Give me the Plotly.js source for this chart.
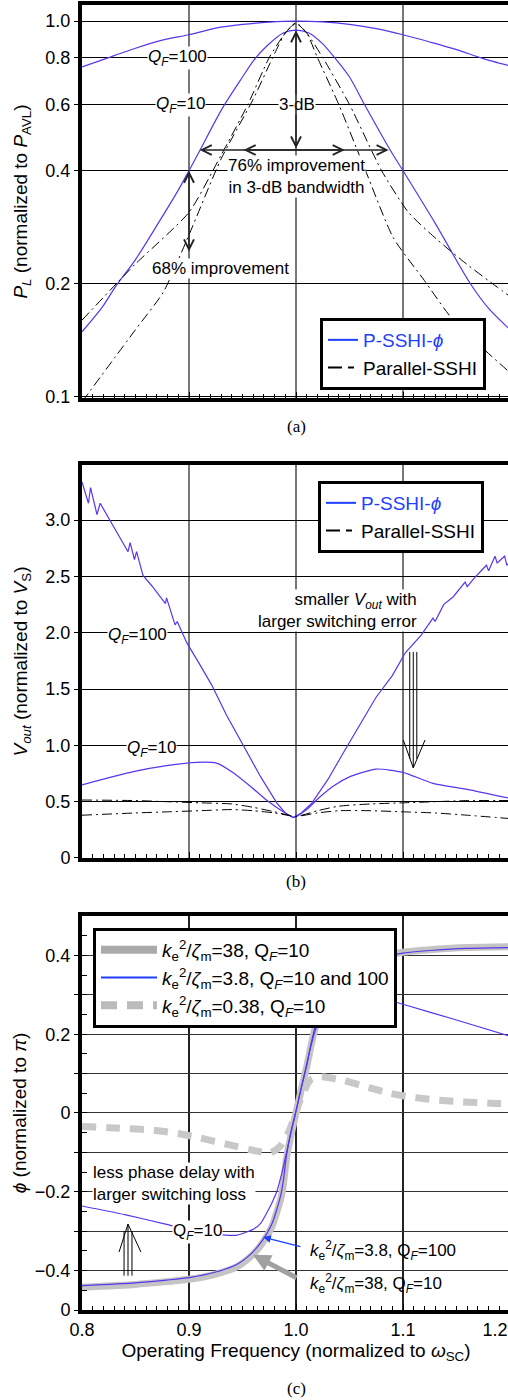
<!DOCTYPE html>
<html>
<head>
<meta charset="utf-8">
<script src="https://cdn.plot.ly/plotly-3.0.1.min.js"></script>
<style>
html,body{margin:0;padding:0;background:#fff;overflow:hidden;}
#chart{width:512px;height:1400px;}
</style>
</head>
<body>
<div id="chart"></div>
<script>
// ---------- Panel (a): P_L (normalized to P_AVL), log scale ----------
const fA_q100 = [0.80,0.825,0.85,0.875,0.90,0.925,0.95,0.975,1.00,1.025,1.05,1.075,1.10,1.125,1.15,1.175,1.20];
const plA_q100 = [0.755,0.80,0.847,0.89,0.92,0.958,0.98,0.994,1.0,0.995,0.98,0.955,0.92,0.88,0.84,0.795,0.76];
const fA_q10 = [0.80,0.82,0.831,0.85,0.87,0.89,0.90,0.91,0.931,0.95,0.961,0.973,0.988,1.00,1.012,1.025,1.036,1.05,1.064,1.088,1.10,1.13,1.163,1.18,1.20];
const plA_q10 = [0.149,0.175,0.196,0.232,0.286,0.355,0.40,0.452,0.585,0.71,0.79,0.86,0.93,0.946,0.93,0.87,0.80,0.71,0.60,0.454,0.40,0.29,0.20,0.172,0.151];
const fA_ssA = [0.80,0.85,0.876,0.90,0.93,0.96,0.98,0.99,1.00,1.01,1.02,1.04,1.065,1.091,1.12,1.147,1.20];
const plA_ssA = [0.097,0.151,0.19,0.27,0.43,0.62,0.82,0.93,0.985,0.93,0.80,0.60,0.40,0.265,0.204,0.16,0.116];
const fA_ssB = [0.80,0.832,0.85,0.90,0.93,0.955,0.975,0.99,1.00,1.01,1.025,1.05,1.08,1.105,1.132,1.16,1.188,1.20];
const plA_ssB = [0.160,0.20,0.226,0.31,0.44,0.60,0.80,0.93,0.99,0.93,0.80,0.60,0.40,0.31,0.262,0.225,0.196,0.185];
const tickA = [0.1,0.2,0.4,0.6,0.8,1.0];
const tickA_text = ['0.1','0.2','0.4','0.6','0.8','1.0'];

// ---------- Panel (b): V_out (normalized to V_S) ----------
const fB_q100 = [0.800,0.806,0.808,0.811,0.814,0.817,0.826,0.836,0.843,0.845,0.849,0.851,0.857,0.865,0.878,0.879,0.887,0.889,0.898,0.910,0.921,0.935,0.952,0.967,0.982,0.990,0.9975,1.005,1.015,1.030,1.044,1.063,1.075,1.090,1.102,1.117,1.128,1.130,1.138,1.147,1.158,1.160,1.167,1.178,1.180,1.186,1.188,1.195,1.197,1.200];
const vB_q100 = [3.34,3.15,3.29,3.18,3.05,3.15,3.00,2.84,2.72,2.80,2.65,2.72,2.51,2.42,2.26,2.31,2.07,2.10,1.91,1.72,1.54,1.27,0.98,0.72,0.49,0.40,0.36,0.40,0.49,0.70,0.93,1.24,1.43,1.62,1.82,1.98,2.13,2.10,2.25,2.32,2.45,2.41,2.49,2.60,2.55,2.68,2.62,2.68,2.60,2.63];
const fB_q10 = [0.80,0.848,0.879,0.907,0.925,0.941,0.957,0.973,0.988,0.998,1.010,1.022,1.035,1.05,1.075,1.10,1.128,1.16,1.20];
const vB_q10 = [0.65,0.767,0.82,0.85,0.845,0.76,0.64,0.51,0.41,0.36,0.43,0.54,0.64,0.72,0.79,0.76,0.663,0.61,0.53];
const fB_ss = [0.80,0.85,0.88,0.91,0.94,0.96,0.98,1.00,1.02,1.04,1.07,1.10,1.13,1.16,1.20];
const vB_ssUpper = [0.515,0.51,0.50,0.49,0.48,0.45,0.41,0.37,0.42,0.46,0.48,0.49,0.50,0.51,0.51];
const vB_ssLower = [0.38,0.40,0.41,0.42,0.43,0.42,0.40,0.37,0.40,0.42,0.42,0.41,0.40,0.38,0.35];
const tickB = [0,0.5,1.0,1.5,2.0,2.5,3.0];
const tickB_text = ['0','0.5','1.0','1.5','2.0','2.5','3.0'];

// ---------- Panel (c): phi (normalized to pi) ----------
const fC_38 = [0.80,0.85,0.879,0.90,0.926,0.945,0.957,0.966,0.973,0.978,0.982,0.986,0.988,0.991,0.995,1.0,1.005,1.010,1.014,1.018,1.025,1.035,1.05,1.07,1.082,1.10,1.128,1.16,1.20];
const phC_38 = [-0.442,-0.435,-0.428,-0.422,-0.408,-0.39,-0.366,-0.34,-0.311,-0.285,-0.252,-0.215,-0.186,-0.118,-0.06,0.0,0.06,0.117,0.17,0.217,0.27,0.32,0.36,0.39,0.398,0.408,0.415,0.42,0.422];
const phC_38q100 = [-0.438,-0.431,-0.424,-0.418,-0.403,-0.384,-0.36,-0.333,-0.305,-0.278,-0.245,-0.205,-0.175,-0.11,-0.05,0.005,0.065,0.12,0.175,0.22,0.275,0.325,0.362,0.387,0.397,0.406,0.413,0.418,0.42];
const fC_q10 = [0.80,0.84,0.878,0.905,0.934,0.945,0.96,0.967,0.973,0.978,0.982,0.987,0.992,1.0,1.008,1.013,1.018,1.025,1.035,1.05,1.065,1.081,1.10,1.15,1.20];
const phC_q10 = [-0.236,-0.258,-0.282,-0.30,-0.31,-0.31,-0.295,-0.28,-0.252,-0.225,-0.20,-0.15,-0.09,0.005,0.10,0.16,0.21,0.255,0.29,0.305,0.30,0.29,0.276,0.236,0.195];
const fC_038 = [0.80,0.83,0.864,0.89,0.91,0.938,0.957,0.976,0.985,0.994,1.004,1.013,1.022,1.044,1.066,1.088,1.106,1.131,1.156,1.181,1.20];
const phC_038 = [-0.034,-0.038,-0.043,-0.052,-0.063,-0.081,-0.093,-0.101,-0.085,-0.043,0.033,0.083,0.092,0.083,0.066,0.05,0.041,0.033,0.028,0.025,0.024];
const tickC = [-0.5,-0.4,-0.3,-0.2,-0.1,0,0.1,0.2,0.3,0.4];
const tickC_text = ['0','\u22120.4','','\u22120.2','','0','','0.2','','0.4'];
const tickX = [0.8,0.9,1.0,1.1,1.2];
const tickX_text = ['0.8','0.9','1.0','1.1','1.2\u00a0\u00a0\u00a0\u00a0\u00a0\u00a0'];

const PURPLE = '#5b34ee';
const LEGBLUE = '#1f3fff';
const FONT = 'Liberation Sans, Arial, Helvetica, sans-serif';
const SSHI_DASH = '10px,4px,2px,4px';

const traces = [
  // panel a
  {x:fA_q100, y:plA_q100, xaxis:'x', yaxis:'y', mode:'lines', line:{color:PURPLE,width:1.2,shape:'spline',smoothing:0.6}, showlegend:false},
  {x:fA_q10, y:plA_q10, xaxis:'x', yaxis:'y', mode:'lines', line:{color:PURPLE,width:1.2,shape:'spline',smoothing:0.8}, showlegend:false},
  {x:fA_ssA, y:plA_ssA, xaxis:'x', yaxis:'y', mode:'lines', line:{color:'#000',width:1,dash:SSHI_DASH,shape:'spline',smoothing:0.6}, showlegend:false},
  {x:fA_ssB, y:plA_ssB, xaxis:'x', yaxis:'y', mode:'lines', line:{color:'#000',width:1,dash:SSHI_DASH,shape:'spline',smoothing:0.6}, showlegend:false},
  {x:[null], y:[null], xaxis:'x', yaxis:'y', mode:'lines', line:{color:LEGBLUE,width:2}, name:'<span style="color:#1f3fff">P-SSHI-<i>\u03d5</i></span>', legend:'legend'},
  {x:[null], y:[null], xaxis:'x', yaxis:'y', mode:'lines', line:{color:'#000',width:2,dash:'14px,6px,6px,6px'}, name:'Parallel-SSHI', legend:'legend'},
  // panel b
  {x:fB_q100, y:vB_q100, xaxis:'x2', yaxis:'y2', mode:'lines', line:{color:PURPLE,width:1.2}, showlegend:false},
  {x:fB_q10, y:vB_q10, xaxis:'x2', yaxis:'y2', mode:'lines', line:{color:PURPLE,width:1.2,shape:'spline',smoothing:0.6}, showlegend:false},
  {x:fB_ss, y:vB_ssUpper, xaxis:'x2', yaxis:'y2', mode:'lines', line:{color:'#000',width:1,dash:SSHI_DASH,shape:'spline',smoothing:0.6}, showlegend:false},
  {x:fB_ss, y:vB_ssLower, xaxis:'x2', yaxis:'y2', mode:'lines', line:{color:'#000',width:1,dash:SSHI_DASH,shape:'spline',smoothing:0.6}, showlegend:false},
  {x:[null], y:[null], xaxis:'x2', yaxis:'y2', mode:'lines', line:{color:LEGBLUE,width:2}, name:'<span style="color:#1f3fff">P-SSHI-<i>\u03d5</i></span>', legend:'legend2'},
  {x:[null], y:[null], xaxis:'x2', yaxis:'y2', mode:'lines', line:{color:'#000',width:2,dash:'14px,6px,6px,6px'}, name:'Parallel-SSHI', legend:'legend2'},
  // panel c
  {x:fC_38, y:phC_38, xaxis:'x3', yaxis:'y3', mode:'lines', line:{color:'#c4c4c4',width:7,shape:'spline',smoothing:0.6}, showlegend:false},
  {x:fC_038, y:phC_038, xaxis:'x3', yaxis:'y3', mode:'lines', line:{color:'#c8c8c8',width:7,dash:'14px,10px',shape:'spline',smoothing:0.6}, showlegend:false},
  {x:fC_38, y:phC_38q100, xaxis:'x3', yaxis:'y3', mode:'lines', line:{color:PURPLE,width:1.2,shape:'spline',smoothing:0.6}, showlegend:false},
  {x:fC_q10, y:phC_q10, xaxis:'x3', yaxis:'y3', mode:'lines', line:{color:PURPLE,width:1.2,shape:'spline',smoothing:0.6}, showlegend:false},
  {x:[null], y:[null], xaxis:'x3', yaxis:'y3', mode:'lines', line:{color:'#aaaaaa',width:8}, name:'<i>k</i><sub>e</sub><sup>2</sup>/<i>\u03b6</i><sub>m</sub>=38, Q<sub><i>F</i></sub>=10', legend:'legend3'},
  {x:[null], y:[null], xaxis:'x3', yaxis:'y3', mode:'lines', line:{color:LEGBLUE,width:2}, name:'<i>k</i><sub>e</sub><sup>2</sup>/<i>\u03b6</i><sub>m</sub>=3.8, Q<sub><i>F</i></sub>=10 and 100', legend:'legend3'},
  {x:[null], y:[null], xaxis:'x3', yaxis:'y3', mode:'lines', line:{color:'#bbbbbb',width:8,dash:'16px,10px'}, name:'<i>k</i><sub>e</sub><sup>2</sup>/<i>\u03b6</i><sub>m</sub>=0.38, Q<sub><i>F</i></sub>=10', legend:'legend3'}
];

function xAxis(anchor, labels, gridcolor){
  return {
    anchor: anchor, domain:[0,1], range:[0.8,1.2],
    tickmode:'array', tickvals:tickX, ticktext:tickX_text,
    showticklabels: labels, ticks:'inside', ticklen:6, tickcolor:'#000',
    ticklabeloverflow:'allow',
    showgrid:true, gridcolor:gridcolor, gridwidth:1.2, zeroline:false,
    showline:true, linecolor:'#000', linewidth:4, mirror:true,
    minor:{tickmode:'linear', tick0:0.8, dtick:0.01, ticks:'inside', ticklen:4, tickcolor:'#000', showgrid:false},
    tickfont:{size:18, family:FONT}
  };
}
const legendBase = {
  bgcolor:'#fff', bordercolor:'#000', borderwidth:3,
  font:{size:19, family:FONT, color:'#000'},
  xanchor:'left', yanchor:'top', traceorder:'normal', tracegroupgap:0
};

const layout = {
  width:512, height:1400,
  margin:{l:82, r:2, t:5, b:90},
  paper_bgcolor:'#fff', plot_bgcolor:'#fff',
  font:{family:FONT, size:18, color:'#000'},
  showlegend:true, hovermode:false,
  xaxis: xAxis('y', false, '#777'),
  xaxis2: xAxis('y2', false, '#777'),
  xaxis3: Object.assign(xAxis('y3', true, '#222'), {
    title:{text:'Operating Frequency (normalized to <i>\u03c9</i><sub>SC</sub>)', font:{size:19, family:FONT}, standoff:6}
  }),
  yaxis: {
    domain:[0.69885,1], anchor:'x', type:'log', range:[-1.003,0.043],
    tickmode:'array', tickvals:tickA, ticktext:tickA_text,
    ticks:'outside', ticklen:4, tickcolor:'#000',
    showgrid:true, gridcolor:'#000', gridwidth:1, zeroline:false,
    showline:true, linecolor:'#000', linewidth:4, mirror:true,
    tickfont:{size:18, family:FONT},
    title:{text:'<i>P</i><sub><i>L</i></sub> (normalized to <i>P</i><sub>AVL</sub>)', font:{size:19, family:FONT}, standoff:14}
  },
  yaxis2: {
    domain:[0.34636,0.64751], anchor:'x2', range:[0,3.49],
    tickmode:'array', tickvals:tickB, ticktext:tickB_text,
    ticks:'outside', ticklen:4, tickcolor:'#000',
    showgrid:true, gridcolor:'#000', gridwidth:1, zeroline:false,
    showline:true, linecolor:'#000', linewidth:4, mirror:true,
    tickfont:{size:18, family:FONT},
    title:{text:'<i>V</i><sub><i>out</i></sub> (normalized to <i>V</i><sub>S</sub>)', font:{size:19, family:FONT}, standoff:14}
  },
  yaxis3: {
    domain:[0,0.30192], anchor:'x3', range:[-0.5,0.5],
    tickmode:'array', tickvals:tickC, ticktext:tickC_text,
    ticks:'outside', ticklen:4, tickcolor:'#000',
    showgrid:true, gridcolor:'#333', gridwidth:1, zeroline:false,
    showline:true, linecolor:'#000', linewidth:4, mirror:true,
    minor:{tickmode:'linear', tick0:0, dtick:0.05, ticks:'inside', ticklen:5, tickcolor:'#000', showgrid:false},
    tickfont:{size:18, family:FONT},
    title:{text:'<i>\u03d5</i> (normalized to <i>\u03c0</i>)', font:{size:19, family:FONT}, standoff:4}
  },
  legend: Object.assign({}, legendBase, {x:0.556, y:0.76015}),
  legend2: Object.assign({}, legendBase, {x:0.5514, y:0.63525}),
  legend3: Object.assign({}, legendBase, {x:0.0257, y:0.29272, itemwidth:56}),
  shapes: [
    // panel b triple arrow (down)
    {type:'line', xref:'x2', yref:'y2', x0:1.1063, x1:1.1063, y0:1.83, y1:0.88, line:{color:'#000',width:1}},
    {type:'line', xref:'x2', yref:'y2', x0:1.1096, x1:1.1096, y0:1.83, y1:0.80, line:{color:'#000',width:1}},
    {type:'line', xref:'x2', yref:'y2', x0:1.1129, x1:1.1129, y0:1.83, y1:0.88, line:{color:'#000',width:1}},
    {type:'line', xref:'x2', yref:'y2', x0:1.1003, x1:1.1096, y0:1.048, y1:0.80, line:{color:'#000',width:1}},
    {type:'line', xref:'x2', yref:'y2', x0:1.1206, x1:1.1096, y0:1.048, y1:0.80, line:{color:'#000',width:1}},
    // panel c triple arrow (up)
    {type:'line', xref:'x3', yref:'y3', x0:0.8393, x1:0.8393, y0:-0.413, y1:-0.30, line:{color:'#000',width:1}},
    {type:'line', xref:'x3', yref:'y3', x0:0.8430, x1:0.8430, y0:-0.413, y1:-0.282, line:{color:'#000',width:1}},
    {type:'line', xref:'x3', yref:'y3', x0:0.8467, x1:0.8467, y0:-0.413, y1:-0.30, line:{color:'#000',width:1}},
    {type:'line', xref:'x3', yref:'y3', x0:0.8346, x1:0.8430, y0:-0.353, y1:-0.282, line:{color:'#000',width:1}},
    {type:'line', xref:'x3', yref:'y3', x0:0.8551, x1:0.8430, y0:-0.353, y1:-0.282, line:{color:'#000',width:1}}
  ],
  annotations: []
};

const L = Math.log10;
const ann = layout.annotations;
const TF = {size:17, family:FONT, color:'#000'};
// panel a texts
ann.push({xref:'x', yref:'y', x:0.8888, y:L(0.8), text:'<i>Q</i><sub><i>F</i></sub>=100', showarrow:false, bgcolor:'#fff', font:TF, borderpad:0});
ann.push({xref:'x', yref:'y', x:0.8925, y:L(0.6), text:'<i>Q</i><sub><i>F</i></sub>=10', showarrow:false, bgcolor:'#fff', font:TF, borderpad:0});
ann.push({xref:'x', yref:'y', x:1.001, y:L(0.6), text:'3-dB', showarrow:false, bgcolor:'#fff', font:TF, borderpad:0});
ann.push({xref:'x', yref:'y', x:1.0, y:L(0.387), text:'76% improvement<br>in 3-dB bandwidth', showarrow:false, bgcolor:'#fff', font:TF, borderpad:0});
ann.push({xref:'x', yref:'y', x:0.929, y:L(0.220), text:'68% improvement', showarrow:false, bgcolor:'#fff', font:TF, borderpad:0});
// panel a arrows
const arrowA = {xref:'x', yref:'y', axref:'x', ayref:'y', text:'', showarrow:true, arrowside:'end+start', arrowhead:5, startarrowhead:5, arrowsize:1.3, startarrowsize:1.3, arrowwidth:1.5, arrowcolor:'#222'};
ann.push(Object.assign({}, arrowA, {x:1.0, y:L(0.946), ax:1.0, ay:L(0.454)}));
ann.push(Object.assign({}, arrowA, {x:0.91, y:L(0.454), ax:1.088, ay:L(0.454)}));
ann.push(Object.assign({}, arrowA, {x:0.951, y:L(0.454), ax:1.047, ay:L(0.454)}));
ann.push(Object.assign({}, arrowA, {x:0.9, y:L(0.40), ax:0.9, ay:L(0.2415)}));
// panel b texts
ann.push({xref:'x2', yref:'y2', x:0.8514, y:1.97, text:'<i>Q</i><sub><i>F</i></sub>=100', showarrow:false, bgcolor:'#fff', font:TF, borderpad:0});
ann.push({xref:'x2', yref:'y2', x:0.8645, y:0.97, text:'<i>Q</i><sub><i>F</i></sub>=10', showarrow:false, bgcolor:'#fff', font:TF, borderpad:0});
ann.push({xref:'x2', yref:'y2', x:1.114, y:2.2, xanchor:'right', align:'right', text:'smaller <i>V</i><sub><i>out</i></sub> with<br>larger switching error', showarrow:false, bgcolor:'#fff', font:TF, borderpad:0});
// panel c texts
ann.push({xref:'x3', yref:'y3', x:0.8093, y:-0.18, xanchor:'left', align:'left', text:'less phase delay with<br>larger switching loss', showarrow:false, bgcolor:'#fff', font:TF, borderpad:0});
ann.push({xref:'x3', yref:'y3', x:0.9084, y:-0.302, text:'Q<sub><i>F</i></sub>=10', showarrow:false, bgcolor:'#fff', font:TF, borderpad:0});
ann.push({xref:'x3', yref:'y3', x:1.0112, y:-0.350, xanchor:'left', text:'<i>k</i><sub>e</sub><sup>2</sup>/<i>\u03b6</i><sub>m</sub>=3.8, Q<sub><i>F</i></sub>=100', showarrow:false, font:TF});
ann.push({xref:'x3', yref:'y3', x:1.0112, y:-0.433, xanchor:'left', text:'<i>k</i><sub>e</sub><sup>2</sup>/<i>\u03b6</i><sub>m</sub>=38, Q<sub><i>F</i></sub>=10', showarrow:false, font:TF});
ann.push({xref:'x3', yref:'y3', axref:'x3', ayref:'y3', x:0.9692, y:-0.315, ax:1.0056, ay:-0.34, text:'', showarrow:true, arrowhead:2, arrowsize:1.2, arrowwidth:1.3, arrowcolor:'#1f3fff'});
ann.push({xref:'x3', yref:'y3', axref:'x3', ayref:'y3', x:0.9598, y:-0.36, ax:1.0019, ay:-0.42, text:'', showarrow:true, arrowhead:2, arrowsize:0.7, arrowwidth:5, arrowcolor:'#a0a0a0'});
// panel labels
const SERIF = {size:17, family:'Liberation Serif, Times New Roman, serif', color:'#000'};
ann.push({xref:'paper', yref:'paper', x:0.5023, y:0.67663, yanchor:'middle', xanchor:'center', text:'(a)', showarrow:false, font:SERIF});
ann.push({xref:'paper', yref:'paper', x:0.5, y:0.32797, yanchor:'middle', xanchor:'center', text:'(b)', showarrow:false, font:SERIF});
ann.push({xref:'paper', yref:'paper', x:0.5, y:-0.0598, yanchor:'middle', xanchor:'center', text:'(c)', showarrow:false, font:SERIF});

Plotly.newPlot('chart', traces, layout, {staticPlot:true, displayModeBar:false});
</script>
</body>
</html>
